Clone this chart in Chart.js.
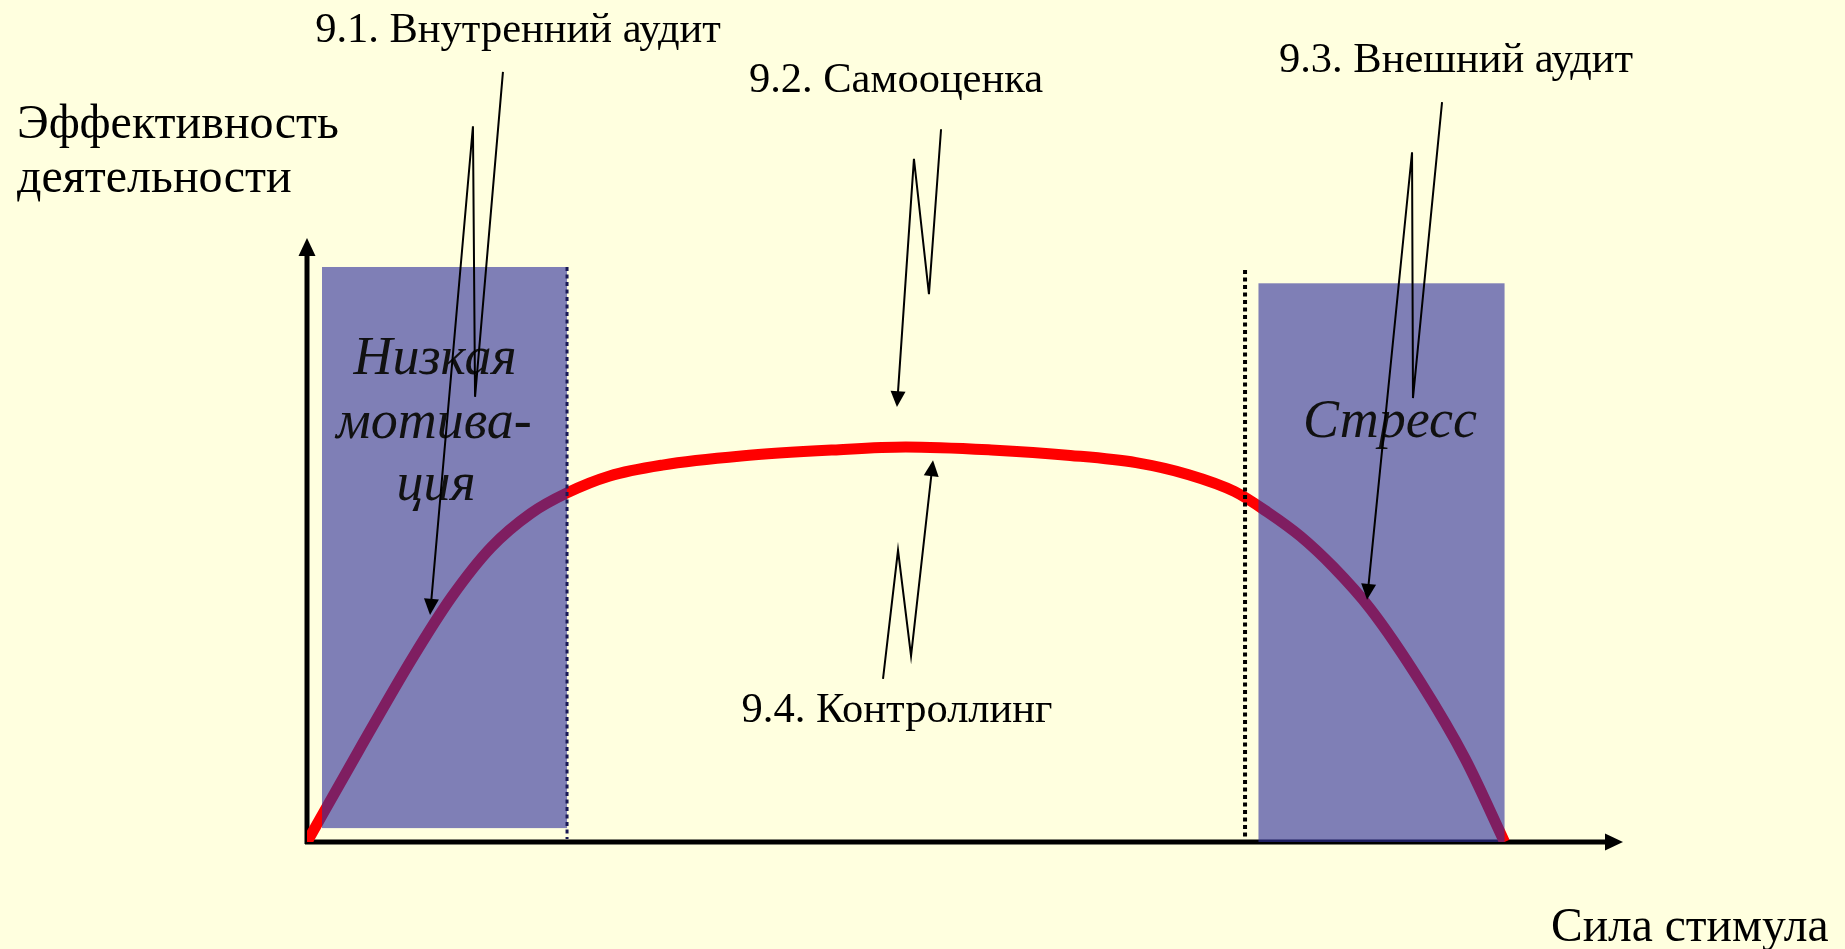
<!DOCTYPE html>
<html>
<head>
<meta charset="utf-8">
<script src="https://cdn.jsdelivr.net/npm/chart.js@4.4.1/dist/chart.umd.min.js"></script>
<style>
  html, body { margin: 0; padding: 0; background: #FFFFDF; }
  #wrap { width: 1845px; height: 949px; position: relative; }
</style>
</head>
<body>
<div id="wrap"><canvas id="c" width="1845" height="949"></canvas></div>
<script>
// ---- data ----
const stimulus = [0, 4, 8, 11, 14, 17, 19.76, 23, 27, 33, 40, 45.5, 52, 58, 63, 67, 70.5, 73, 75.5, 78, 80.8, 84.6, 88, 91.0];
const efficiency = [0, 15.4, 30.4, 40.6, 48.8, 54.4, 57.8, 60.6, 62.4, 63.9, 64.9, 65.4, 64.9, 64.0, 62.8, 60.8, 58.0, 54.6, 50.6, 45.5, 38.6, 26.5, 13.8, 0];
const zoneLabels = [["Низкая", "мотива-", "ция"], ["Стресс"]];
const zoneStart = [1.14, 72.3];
const zoneEnd = [19.76, 91.0];
const zoneTop = [95.2, 92.5];
const zoneBottom = [2.3, 0];
const dividerX = [19.76, 71.28];
const dividerTop = [95.2, 94.7];
const calloutLabels = ["9.1. Внутренний аудит", "9.2. Самооценка", "9.3. Внешний аудит", "9.4. Контроллинг"];
const calloutX = [[14.89, 12.77, 12.61, 9.35], [48.18, 47.26, 46.12, 44.83], [86.25, 84.04, 83.97, 80.55], [43.77, 44.91, 45.90, 47.57]];
const calloutY = [[127.5, 73.7, 118.5, 37.6], [118.0, 90.7, 113.1, 72.0], [122.5, 73.5, 114.2, 40.1], [27.0, 48.3, 30.8, 63.2]];
const yAxisTitle = ["Эффективность", "деятельности"];
const xAxisTitle = "Сила стимула";

// ---- layout / style (pixels) ----
const BG = '#FFFFDF';
const SERIF = '"Liberation Serif", "Times New Roman", serif';
const calloutTextPos = [[518, 42], [896, 92], [1456, 72], [897, 722]];
const zoneTextPos = [[[435, 374], [434, 438], [436, 500]], [[1390, 437]]];

function arrowHead(ctx, x0, y0, x1, y1, len, wid) {
  const a = Math.atan2(y1 - y0, x1 - x0);
  ctx.beginPath();
  ctx.moveTo(x1, y1);
  ctx.lineTo(x1 - len * Math.cos(a) + wid / 2 * Math.sin(a), y1 - len * Math.sin(a) - wid / 2 * Math.cos(a));
  ctx.lineTo(x1 - len * Math.cos(a) - wid / 2 * Math.sin(a), y1 - len * Math.sin(a) + wid / 2 * Math.cos(a));
  ctx.closePath();
  ctx.fill();
}

const decor = {
  id: 'decor',
  beforeDraw(chart) {
    const ctx = chart.ctx;
    ctx.save();
    ctx.fillStyle = BG;
    ctx.fillRect(0, 0, chart.width, chart.height);
    ctx.restore();
  },
  beforeDatasetsDraw(chart) {
    const ctx = chart.ctx, xs = chart.scales.x, ys = chart.scales.y;
    const x0 = xs.getPixelForValue(0), y0 = ys.getPixelForValue(0);
    const xe = xs.getPixelForValue(100), ye = ys.getPixelForValue(100);
    ctx.save();
    ctx.strokeStyle = '#000'; ctx.fillStyle = '#000'; ctx.lineWidth = 5;
    ctx.beginPath(); ctx.moveTo(x0, y0 + 2); ctx.lineTo(x0, ye + 14); ctx.stroke();
    arrowHead(ctx, x0, y0, x0, ye, 18, 17);
    ctx.beginPath(); ctx.moveTo(x0 - 2, y0); ctx.lineTo(xe - 14, y0); ctx.stroke();
    arrowHead(ctx, x0, y0, xe, y0, 18, 17);
    ctx.restore();
  },
  afterDatasetsDraw(chart) {
    const ctx = chart.ctx, xs = chart.scales.x, ys = chart.scales.y;
    ctx.save();
    // zones
    for (let i = 0; i < zoneStart.length; i++) {
      const l = xs.getPixelForValue(zoneStart[i]), r = xs.getPixelForValue(zoneEnd[i]);
      const t = ys.getPixelForValue(zoneTop[i]), b = ys.getPixelForValue(zoneBottom[i]);
      ctx.fillStyle = 'rgba(49,49,157,0.62)';
      ctx.fillRect(l, t, r - l, b - t);
    }
    // dividers
    const dcol = ['#1a1a55', '#000'];
    const dw = [3, 4];
    for (let i = 0; i < dividerX.length; i++) {
      const x = xs.getPixelForValue(dividerX[i]);
      ctx.strokeStyle = dcol[i]; ctx.lineWidth = dw[i];
      ctx.setLineDash([4, 3.5]);
      ctx.beginPath();
      ctx.moveTo(x, ys.getPixelForValue(dividerTop[i]));
      ctx.lineTo(x, ys.getPixelForValue(0) - 3);
      ctx.stroke();
    }
    ctx.setLineDash([]);
    // zone labels
    ctx.fillStyle = '#111';
    ctx.font = 'italic 54px ' + SERIF;
    ctx.textAlign = 'center'; ctx.textBaseline = 'alphabetic';
    zoneLabels.forEach((lines, i) => lines.forEach((s, j) => ctx.fillText(s, zoneTextPos[i][j][0], zoneTextPos[i][j][1])));
    // callouts
    ctx.strokeStyle = '#000'; ctx.fillStyle = '#000'; ctx.lineWidth = 2;
    ctx.lineJoin = 'miter';
    for (let i = 0; i < calloutX.length; i++) {
      const px = calloutX[i].map(v => xs.getPixelForValue(v));
      const py = calloutY[i].map(v => ys.getPixelForValue(v));
      const n = px.length;
      const a = Math.atan2(py[n - 1] - py[n - 2], px[n - 1] - px[n - 2]);
      ctx.beginPath();
      ctx.moveTo(px[0], py[0]);
      for (let k = 1; k < n - 1; k++) ctx.lineTo(px[k], py[k]);
      ctx.lineTo(px[n - 1] - 12 * Math.cos(a), py[n - 1] - 12 * Math.sin(a));
      ctx.stroke();
      arrowHead(ctx, px[n - 2], py[n - 2], px[n - 1], py[n - 1], 16, 15);
    }
    // callout texts
    ctx.font = '42.5px ' + SERIF;
    ctx.fillStyle = '#000';
    ctx.textAlign = 'center';
    calloutLabels.forEach((s, i) => ctx.fillText(s, calloutTextPos[i][0], calloutTextPos[i][1]));
    // axis titles
    ctx.font = '48px ' + SERIF;
    ctx.textAlign = 'left';
    ctx.fillText(yAxisTitle[0], 17, 138);
    ctx.fillText(yAxisTitle[1], 17, 192);
    ctx.font = '47.5px ' + SERIF;
    ctx.fillText(xAxisTitle, 1551, 941);
    ctx.restore();
  }
};

new Chart(document.getElementById('c'), {
  type: 'scatter',
  data: {
    datasets: [{
      data: stimulus.map((x, i) => ({ x: x, y: efficiency[i] })),
      showLine: true,
      borderColor: '#FF0000',
      borderWidth: 11,
      pointRadius: 0,
      cubicInterpolationMode: 'monotone',
      borderCapStyle: 'butt',
      fill: false
    }]
  },
  options: {
    responsive: false,
    animation: false,
    layout: { padding: { left: 307, right: 222, top: 238, bottom: 107 } },
    plugins: { legend: { display: false }, tooltip: { enabled: false } },
    scales: {
      x: { type: 'linear', min: 0, max: 100, display: false },
      y: { type: 'linear', min: 0, max: 100, display: false }
    }
  },
  plugins: [decor]
});
</script>
</body>
</html>
